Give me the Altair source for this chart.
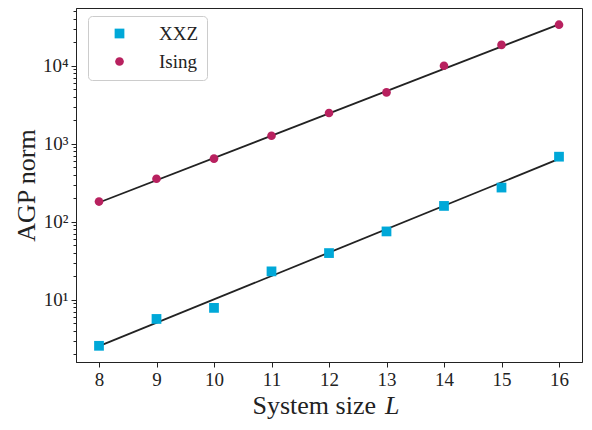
import altair as alt
import pandas as pd

# ---- data ----
L = [8, 9, 10, 11, 12, 13, 14, 15, 16]
xxz = [2.58, 5.7, 7.9, 23.2, 39.8, 75.4, 160, 275, 684]
ising = [182, 357, 647, 1270, 2480, 4560, 10000, 18500, 33600]
fit_L = [8, 16]
xxz_fit = [2.55, 640]
ising_fit = [177, 34000]
models = ["XXZ", "Ising"]
colors = ["#00a8d8", "#b8215f"]
shapes = ["square", "circle"]
x_ticks = [8, 9, 10, 11, 12, 13, 14, 15, 16]
y_major = [10, 100, 1000, 10000]
y_lo, y_hi = 1.6, 55000
y_minor = [m * 10 ** k for k in range(0, 5) for m in range(2, 10) if y_lo <= m * 10 ** k <= y_hi]

FONT = "Liberation Serif"
TXT = "#222222"
W, H = 506, 354

pts = pd.DataFrame({"L": L * 2, "v": xxz + ising,
                    "model": ["XXZ"] * len(L) + ["Ising"] * len(L)})
fit = pd.DataFrame({"L": fit_L * 2, "v": xxz_fit + ising_fit,
                    "model": ["XXZ"] * 2 + ["Ising"] * 2})

xscale = alt.Scale(domain=[7.6, 16.4], nice=False, zero=False)
yscale = alt.Scale(type="log", domain=[y_lo, y_hi], nice=False)

x_axis = alt.Axis(values=x_ticks, title=None, grid=False, tickSize=5, labelFontSize=19,
                  labelFont=FONT, labelColor=TXT, tickColor=TXT, domainColor=TXT,
                  labelPadding=3, format="d", labelFlush=False)
y_major_axis = alt.Axis(values=y_major, orient="left", title="AGP norm", grid=False, tickSize=5,
                        labelExpr="'10' + ['⁰','¹','²','³','⁴','⁵'][round(log(datum.value)/LN10)]",
                        labelFontSize=19, labelFont=FONT, labelColor=TXT, tickColor=TXT,
                        domainColor=TXT, labelPadding=3,
                        titleFont=FONT, titleFontSize=26, titleFontWeight="normal", titleColor=TXT,
                        titleX=-50, titleY=H / 2, titleAngle=270, titleAlign="center",
                        titleBaseline="middle")
y_minor_axis = alt.Axis(values=y_minor, orient="left", title=None, labels=False, grid=False,
                        tickSize=3, tickColor=TXT, domain=False)

lines = alt.Chart(fit).mark_line(color="#222222", strokeWidth=1.8).encode(
    x=alt.X("L:Q", scale=xscale, axis=x_axis),
    y=alt.Y("v:Q", scale=yscale, axis=y_major_axis),
    detail="model:N",
)

minor = alt.Chart(pts).mark_point(opacity=0).encode(
    x=alt.X("L:Q", scale=xscale, axis=x_axis),
    y=alt.Y("v:Q", scale=yscale, axis=y_minor_axis),
)

points = alt.Chart(pts).mark_point(filled=True, opacity=1).encode(
    x=alt.X("L:Q", scale=xscale, axis=x_axis),
    y=alt.Y("v:Q", scale=yscale, axis=None),
    color=alt.Color("model:N", scale=alt.Scale(domain=models, range=colors),
                    legend=alt.Legend(title=None, orient="none", legendX=12, legendY=8)),
    shape=alt.Shape("model:N", scale=alt.Scale(domain=models, range=shapes),
                    legend=alt.Legend(title=None, orient="none", legendX=12, legendY=8)),
    size=alt.Size("model:N", scale=alt.Scale(domain=models, range=[95, 75]), legend=None),
)

one = pd.DataFrame({"a": [0]})
xt1 = alt.Chart(one).mark_text(text="System size", font=FONT, fontSize=26, color=TXT,
                               align="right", baseline="alphabetic").encode(
    x=alt.value(300), y=alt.value(406))
xt2 = alt.Chart(one).mark_text(text="L", font=FONT, fontSize=26, fontStyle="italic", color=TXT,
                               align="left", baseline="alphabetic").encode(
    x=alt.value(309), y=alt.value(406))

chart = alt.layer(minor, lines, points, xt1, xt2).resolve_scale(
    y="shared", x="shared"
).resolve_axis(y="independent").properties(
    width=W, height=H,
    autosize=alt.AutoSizeParams(type="none"),
    padding={"left": 68, "top": 0, "right": 2, "bottom": 414 - H},
).configure_view(
    stroke=TXT, strokeWidth=1
).configure_legend(
    strokeColor="#cccccc", cornerRadius=4, padding=8, fillColor="white",
    labelFont=FONT, labelFontSize=19, labelColor=TXT, symbolSize=60,
    symbolOffset=14, labelOffset=30, rowPadding=8, symbolStrokeWidth=0,
)

chart.save("out.html", embed_options={"renderer": "svg", "actions": False})
